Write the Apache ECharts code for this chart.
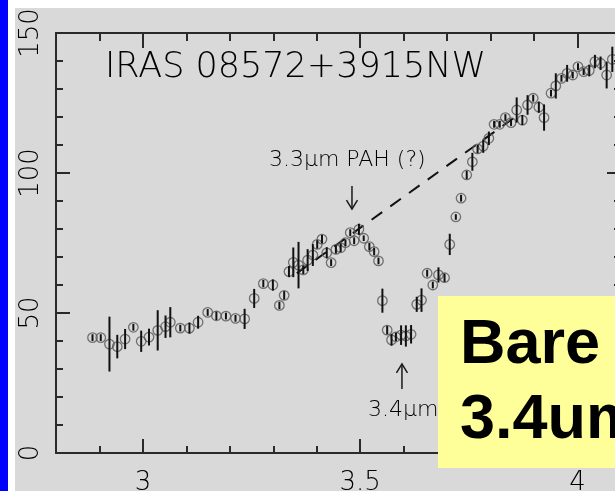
<!DOCTYPE html>
<html><head><meta charset="utf-8">
<script src="https://cdn.jsdelivr.net/npm/echarts@6/dist/echarts.min.js"></script>
<style>html,body{margin:0;padding:0;background:#fff}#c{width:615px;height:491px}</style>
</head><body><div id="c"></div>
<script>
// ---- data ----
const wavelength = [2.884,2.903,2.923,2.941,2.959,2.978,2.996,3.014,3.034,3.052,3.063,3.086,3.107,3.127,3.149,3.169,3.191,3.213,3.234,3.256,3.277,3.299,3.314,3.325,3.336,3.346,3.358,3.369,3.379,3.391,3.401,3.412,3.423,3.433,3.444,3.455,3.466,3.477,3.486,3.497,3.508,3.521,3.532,3.542,3.551,3.562,3.572,3.582,3.594,3.605,3.617,3.630,3.641,3.654,3.667,3.680,3.694,3.706,3.720,3.732,3.745,3.758,3.770,3.783,3.796,3.808,3.821,3.834,3.847,3.860,3.873,3.885,3.898,3.911,3.923,3.939,3.950,3.963,3.976,3.989,4.001,4.014,4.027,4.040,4.053,4.067,4.080];
const flux = [41.2,41.2,38.9,38.0,40.7,44.9,39.9,41.4,43.8,45.1,46.7,44.6,44.6,46.7,50.2,49.0,48.9,48.1,47.9,55.2,60.5,60.0,52.7,56.3,64.8,68.1,67.1,65.4,68.9,70.7,74.5,76.4,71.5,68.0,72.7,73.3,75.1,78.7,75.8,79.9,76.7,73.7,71.9,68.6,54.4,43.9,40.4,41.5,42.1,41.8,42.4,53.1,54.6,64.2,60.0,63.6,62.6,74.5,84.3,91.0,99.3,104.0,108.6,109.6,112.4,117.4,117.4,119.8,118.0,122.5,118.9,124.3,126.7,123.5,119.8,128.5,131.1,133.8,135.6,135.0,138.0,136.2,136.6,139.8,139.2,135.0,140.6];
const fluxErr = [1.2,1.2,9.8,4.2,3.6,1.2,3.8,3.0,7.2,4.0,5.4,1.2,2.0,2.3,1.2,1.5,1.2,1.2,3.6,3.4,1.3,2.0,1.3,1.5,2.0,5.3,8.3,1.5,3.9,3.9,1.5,1.5,2.0,1.2,1.5,1.5,1.2,1.2,1.2,2.0,1.0,1.3,1.3,1.2,4.3,1.5,2.1,1.5,3.5,3.8,3.3,2.7,4.2,1.2,1.2,2.7,1.5,3.8,1.0,1.2,1.5,3.2,1.5,2.4,2.4,1.2,1.2,1.2,1.2,4.5,1.8,3.5,1.2,2.0,4.7,1.2,4.5,1.2,3.0,1.2,1.2,1.2,2.1,2.4,2.4,4.8,4.5];
const continuumX = [3.354, 3.87];
const continuumY = [64.2, 121.5];
const xMajorTicks = [3, 3.5, 4];
const yTickValues = [0, 50, 100, 150];
const titleText = 'IRAS 08572+3915NW';
const pahText = '3.3μm PAH (?)';
const aliText = '3.4μm';
const boxLines = ['Bare', '3.4um'];

// ---- chart ----
const chart = echarts.init(document.getElementById('c'), null, {renderer:'canvas', width:615, height:491});
const axisColor = '#2a2a2a';
const thin = 'DejaVu Sans';
const lbl = {fontFamily: thin, fontWeight: 200, fontSize: 26, color: '#000'};
const tickStyle = {color: axisColor, width: 2};

const points = wavelength.map((w, i) => [w, flux[i]]);
const errData = wavelength.map((w, i) => [w, flux[i], fluxErr[i]]);
const contData = continuumX.map((x, i) => [x, continuumY[i]]);

const xBase = {type:'value', min:2.8, max:4.1, splitLine:{show:false}};
const option = {
  backgroundColor: '#d9d9d9',
  animation: false,
  grid: {left:56, top:33, width:565, height:420, containLabel:false, outerBoundsMode:'none'},
  xAxis: [
    Object.assign({}, xBase, {position:'bottom', interval:0.1,
      axisLine:{show:true, onZero:false, lineStyle:tickStyle},
      axisTick:{show:true, inside:true, length:7, lineStyle:tickStyle},
      axisLabel:{show:false}}),
    Object.assign({}, xBase, {position:'bottom',
      axisLine:{show:false, onZero:false},
      axisTick:{show:true, inside:true, length:14, customValues:xMajorTicks, lineStyle:tickStyle},
      axisLabel:Object.assign({show:true, customValues:xMajorTicks, margin:17}, lbl)}),
    Object.assign({}, xBase, {position:'top', interval:0.1,
      axisLine:{show:true, onZero:false, lineStyle:tickStyle},
      axisTick:{show:true, inside:true, length:8, lineStyle:tickStyle},
      axisLabel:{show:false}}),
    Object.assign({}, xBase, {position:'top',
      axisLine:{show:false, onZero:false},
      axisTick:{show:true, inside:true, length:15, customValues:xMajorTicks, lineStyle:tickStyle},
      axisLabel:{show:false}})
  ],
  yAxis: [
    {type:'value', position:'left', min:0, max:150, interval:50,
      axisLine:{show:true, onZero:false, lineStyle:tickStyle},
      axisTick:{show:true, inside:true, length:14, lineStyle:tickStyle},
      minorTick:{show:true, splitNumber:5, length:7, lineStyle:tickStyle},
      axisLabel:Object.assign({show:true, rotate:90, margin:12, customValues:yTickValues}, lbl),
      splitLine:{show:false}, minorSplitLine:{show:false}},
    {type:'value', position:'right', min:0, max:150, interval:50,
      axisLine:{show:true, onZero:false, lineStyle:tickStyle},
      axisTick:{show:true, inside:true, length:14, lineStyle:tickStyle},
      minorTick:{show:true, splitNumber:5, length:7, lineStyle:tickStyle},
      axisLabel:{show:false},
      splitLine:{show:false}, minorSplitLine:{show:false}}
  ],
  series: [
    {type:'line', xAxisIndex:0, yAxisIndex:0, data:contData, symbol:'none', z:3,
      lineStyle:{color:'#111', width:2, type:[13,10]}},
    {type:'scatter', xAxisIndex:0, yAxisIndex:0, data:points, symbol:'circle', symbolSize:9.5, z:4,
      itemStyle:{color:'rgba(0,0,0,0)', borderColor:'#555', borderWidth:1.3}},
    {type:'custom', xAxisIndex:0, yAxisIndex:0, data:errData, z:5,
      renderItem: function(params, api){
        const x = api.value(0), y = api.value(1), e = api.value(2);
        const p1 = api.coord([x, y - e]);
        const p2 = api.coord([x, y + e]);
        return {type:'line', shape:{x1:p1[0], y1:p1[1], x2:p2[0], y2:p2[1]},
          style:{stroke:'#111', lineWidth:2}};
      }}
  ]
};
chart.setOption(option);

// ---- annotations anchored to data coordinates ----
function px(x, y){ return chart.convertToPixel({xAxisIndex:0, yAxisIndex:0}, [x, y]); }
const pahPos = px(3.290, 104.5);
const aliPos = px(3.518, 15.2);
const dTop = px(3.481, 95.4), dBot = px(3.481, 87.1);
const uTop = px(3.596, 31.8), uBot = px(3.596, 22.9);
const aw = 5.5, ah = 9;
const txt = (x, y, text, font, fill, extra) => Object.assign({type:'text', x:x, y:y, z:50,
  style:{text:text, font:font, fill:fill, align:'left', verticalAlign:'middle', textAlign:'left', textVerticalAlign:'middle'}}, extra||{});
chart.setOption({
  graphic: [
    {type:'rect', shape:{x:0, y:0, width:8, height:491}, style:{fill:'#0000ff'}, z:100},
    {type:'rect', shape:{x:8, y:0, width:607, height:8}, style:{fill:'#ffffff'}, z:100},
    {type:'rect', shape:{x:8, y:0, width:7, height:491}, style:{fill:'#ffffff'}, z:100},
    txt(105, 68, titleText, '200 35px "DejaVu Sans"', '#000'),
    txt(pahPos[0], pahPos[1], pahText, '200 22px "DejaVu Sans"', '#000'),
    txt(aliPos[0], aliPos[1], aliText, '200 22px "DejaVu Sans"', '#000'),
    {type:'polyline', z:50, shape:{points:[[dTop[0], dTop[1]], [dBot[0], dBot[1]]]}, style:{stroke:'#1a1a1a', lineWidth:1.5, fill:null}},
    {type:'polyline', z:50, shape:{points:[[dBot[0]-aw, dBot[1]-ah], [dBot[0], dBot[1]], [dBot[0]+aw, dBot[1]-ah]]}, style:{stroke:'#1a1a1a', lineWidth:1.5, fill:null}},
    {type:'polyline', z:50, shape:{points:[[uTop[0], uTop[1]], [uBot[0], uBot[1]]]}, style:{stroke:'#1a1a1a', lineWidth:1.5, fill:null}},
    {type:'polyline', z:50, shape:{points:[[uTop[0]-aw, uTop[1]+ah], [uTop[0], uTop[1]], [uTop[0]+aw, uTop[1]+ah]]}, style:{stroke:'#1a1a1a', lineWidth:1.5, fill:null}},
    {type:'rect', z:200, shape:{x:438, y:296, width:190, height:172}, style:{fill:'#ffff99'}},
    txt(460, 346, boxLines[0], 'bold 63px "Liberation Sans", Arial, sans-serif', '#000', {z:201}),
    txt(460, 421, boxLines[1], 'bold 63px "Liberation Sans", Arial, sans-serif', '#000', {z:201})
  ]
});
</script></body></html>
